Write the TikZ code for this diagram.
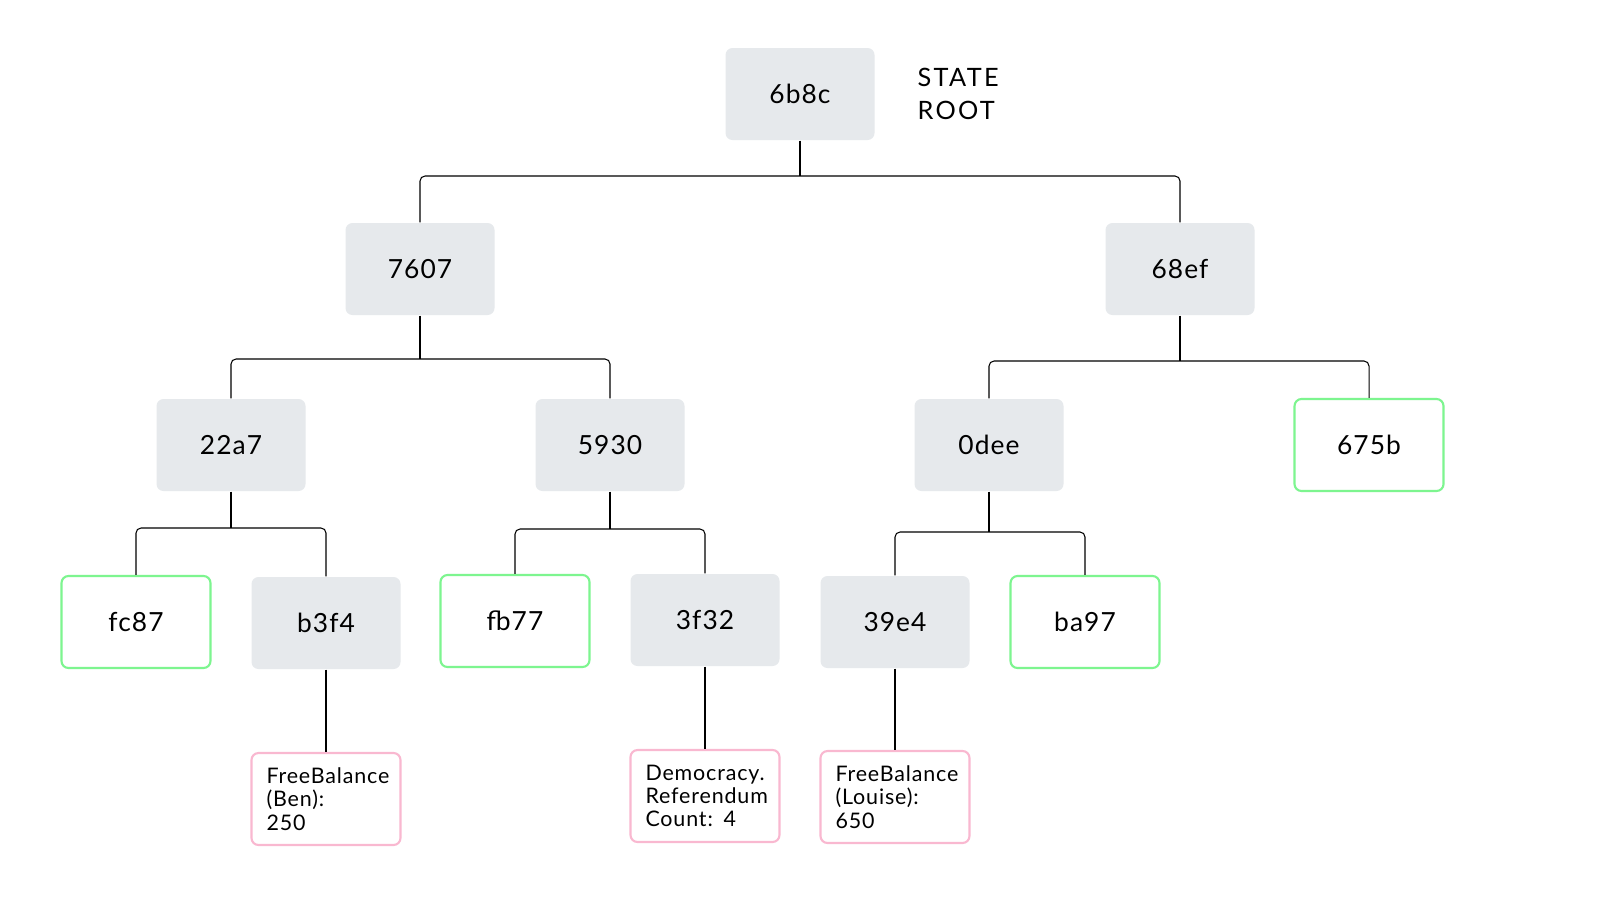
\documentclass[tikz,border=0pt]{standalone}
\usepackage{fontspec}
\setmainfont{Lato}[LetterSpace=4]
\newfontfamily\spacedfont{Lato}[LetterSpace=9]
\usetikzlibrary{positioning}
\definecolor{hash_grey}{HTML}{E6E9EC}
\definecolor{leaf_green}{HTML}{7DF58F}
\definecolor{data_pink}{HTML}{F9B8D0}

\begin{document}
\begin{tikzpicture}[
    hashbox/.style={fill=hash_grey,rounded corners=0.07cm,minimum width=1.49cm,minimum height=0.92cm,inner sep=0pt,font=\fontsize{7.5}{9}\selectfont},
    leafbox/.style={hashbox,fill=white,draw=leaf_green,line width=0.6pt},
    valbox/.style={draw=data_pink,line width=0.6pt,rounded corners=0.07cm,minimum width=1.49cm,minimum height=0.92cm,inner xsep=0.15cm,inner ysep=0pt,text width=1.19cm,align=left,font=\fontsize{6.1}{6.6}\selectfont},
    link/.style={line width=0.3pt,rounded corners=0.05cm}
  ]
          \fill[white] (0,0) rectangle (16,-9);
          \useasboundingbox (0,0) rectangle (16,-9);
          % root
          \node[hashbox] (n6b8c) at (8.00,-0.94) {6b8c};
          \node[anchor=west,align=left,inner sep=0pt,font=\spacedfont\fontsize{7.2}{9.4}\selectfont] (title) at (9.17,-0.94) {STATE\\ROOT};
          % branch nodes
          \node[hashbox] (n7607) at (4.20,-2.69) {7607};
          \node[hashbox] (n68ef) at (11.80,-2.69) {68ef};
          \node[hashbox] (n22a7) at (2.31,-4.45) {22a7};
          \node[hashbox] (n5930) at (6.10,-4.45) {5930};
          \node[hashbox] (n0dee) at (9.89,-4.45) {0dee};
          \node[leafbox] (n675b) at (13.69,-4.45) {675b};
          \node[leafbox] (nfc87) at (1.36,-6.22) {fc87};
          \node[hashbox] (nb3f4) at (3.26,-6.23) {b3f4};
          \node[leafbox] (nfb77) at (5.15,-6.21) {fb77};
          \node[hashbox] (n3f32) at (7.05,-6.20) {3f32};
          \node[hashbox] (n39e4) at (8.95,-6.22) {39e4};
          \node[leafbox] (nba97) at (10.85,-6.22) {ba97};
          % stored values
          \node[valbox] (ben) at (3.26,-7.99) {FreeBalance\\(Ben):\\250};
          \node[valbox] (demo) at (7.05,-7.96) {Democracy.\\Referendum\\Count: 4};
          \node[valbox] (louise) at (8.95,-7.97) {FreeBalance\\(Louise):\\650};
          % buses
          \coordinate (bus0) at (8.00,-1.76);
          \coordinate (bus1a) at (4.20,-3.59);
          \coordinate (bus1b) at (11.80,-3.61);
          \coordinate (bus2a) at (2.31,-5.28);
          \coordinate (bus2b) at (6.10,-5.29);
          \coordinate (bus2c) at (9.89,-5.32);
          \draw[link] (n6b8c.south) -- (bus0);
          \draw[link] (n7607.north) |- (bus0) -| (n68ef.north);
          \draw[link] (n7607.south) -- (bus1a);
          \draw[link] (n22a7.north) |- (bus1a) -| (n5930.north);
          \draw[link] (n68ef.south) -- (bus1b);
          \draw[link] (n0dee.north) |- (bus1b) -| (n675b.north);
          \draw[link] (n22a7.south) -- (bus2a);
          \draw[link] (nfc87.north) |- (bus2a) -| (nb3f4.north);
          \draw[link] (n5930.south) -- (bus2b);
          \draw[link] (nfb77.north) |- (bus2b) -| (n3f32.north);
          \draw[link] (n0dee.south) -- (bus2c);
          \draw[link] (n39e4.north) |- (bus2c) -| (nba97.north);
          \draw[link] (nb3f4.south) -- (ben.north);
          \draw[link] (n3f32.south) -- (demo.north);
          \draw[link] (n39e4.south) -- (louise.north);
        \end{tikzpicture}
\end{document}
